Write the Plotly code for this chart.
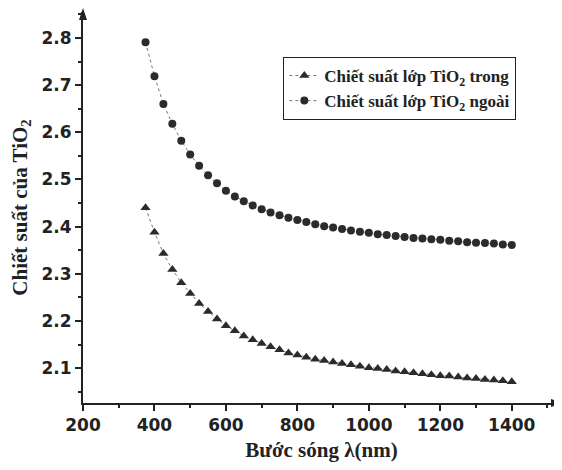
import plotly.graph_objects as go

wavelength_nm = [375, 400, 425, 450, 475, 500, 525, 550, 575, 600, 625, 650, 675, 700,
                 725, 750, 775, 800, 825, 850, 875, 900, 925, 950, 975, 1000, 1025, 1050,
                 1075, 1100, 1125, 1150, 1175, 1200, 1225, 1250, 1275, 1300, 1325, 1350,
                 1375, 1400]

n_inner = [2.440, 2.388, 2.343, 2.309, 2.281, 2.258, 2.237, 2.220, 2.204, 2.190, 2.179,
           2.168, 2.160, 2.152, 2.145, 2.139, 2.132, 2.128, 2.123, 2.119, 2.116, 2.113,
           2.110, 2.107, 2.104, 2.101, 2.099, 2.097, 2.094, 2.092, 2.090, 2.088, 2.086,
           2.084, 2.083, 2.081, 2.079, 2.078, 2.076, 2.075, 2.073, 2.071]

n_outer = [2.791, 2.719, 2.660, 2.618, 2.582, 2.553, 2.529, 2.509, 2.492, 2.476, 2.464,
           2.454, 2.445, 2.437, 2.430, 2.424, 2.419, 2.414, 2.410, 2.405, 2.401, 2.398,
           2.395, 2.392, 2.389, 2.387, 2.384, 2.382, 2.380, 2.378, 2.376, 2.375, 2.373,
           2.372, 2.370, 2.369, 2.367, 2.366, 2.365, 2.364, 2.362, 2.361]

x_ticks = [200, 400, 600, 800, 1000, 1200, 1400]
y_ticks = [2.1, 2.2, 2.3, 2.4, 2.5, 2.6, 2.7, 2.8]
y_tick_text = ["2.1", "2.2", "2.3", "2.4", "2.5", "2.6", "2.7", "2.8"]

name_inner = "Chiết suất lớp TiO<sub>2</sub> trong"
name_outer = "Chiết suất lớp TiO<sub>2</sub> ngoài"
x_title = "Bước sóng λ(nm)"
y_title = "Chiết suất của TiO<sub>2</sub>"

ink = "#2b2b2b"
axis_ink = "#222222"

fig = go.Figure()
fig.add_trace(go.Scatter(
    x=wavelength_nm, y=n_inner, name=name_inner, mode="lines+markers",
    line=dict(color="#777777", width=1, dash="dot"),
    marker=dict(symbol="triangle-up", size=9, color=ink),
))
fig.add_trace(go.Scatter(
    x=wavelength_nm, y=n_outer, name=name_outer, mode="lines+markers",
    line=dict(color="#777777", width=1, dash="dot"),
    marker=dict(symbol="circle", size=8, color=ink),
))

tick_font = dict(family="DejaVu Sans", size=17, color=axis_ink, weight="bold")
title_font = dict(family="Liberation Serif", size=21, color=axis_ink, weight="bold")

fig.update_layout(
    width=554, height=462,
    margin=dict(l=75, r=2, t=4, b=67),
    paper_bgcolor="white", plot_bgcolor="white",
    showlegend=True,
    legend=dict(
        x=0.42, y=0.885, xanchor="left", yanchor="top",
        bordercolor=axis_ink, borderwidth=1, bgcolor="white",
        font=dict(family="Liberation Serif", size=17, color=axis_ink, weight="bold"),
        tracegroupgap=2,
    ),
    xaxis=dict(
        range=[200, 1535], tickvals=x_ticks, automargin=False,
        showgrid=False, zeroline=False, showline=True, linecolor=axis_ink, linewidth=2,
        ticks="outside", ticklen=6, tickwidth=1.5, tickcolor=axis_ink,
        minor=dict(dtick=100, tick0=200, ticks="outside", ticklen=3, tickcolor=axis_ink),
        tickfont=tick_font,
        title=dict(text=x_title, font=title_font, standoff=8),
    ),
    yaxis=dict(
        range=[2.026, 2.855], tickvals=y_ticks, ticktext=y_tick_text, automargin=False,
        showgrid=False, zeroline=False, showline=True, linecolor=axis_ink, linewidth=2,
        ticks="outside", ticklen=6, tickwidth=1.5, tickcolor=axis_ink,
        minor=dict(dtick=0.05, tick0=2.05, ticks="outside", ticklen=3, tickcolor=axis_ink),
        tickfont=tick_font,
        title=dict(text=y_title, font=title_font, standoff=10),
    ),
    shapes=[
        dict(type="path", xref="paper", yref="paper", xsizemode="pixel", ysizemode="pixel",
             xanchor=1, yanchor=0, path="M 2 0 L -9 4 L -9 -4 Z",
             fillcolor=axis_ink, line=dict(width=0)),
        dict(type="path", xref="paper", yref="paper", xsizemode="pixel", ysizemode="pixel",
             xanchor=0, yanchor=1, path="M 0 4 L -4 -8 L 4 -8 Z",
             fillcolor=axis_ink, line=dict(width=0)),
    ],
)

fig.write_html("out.html")
